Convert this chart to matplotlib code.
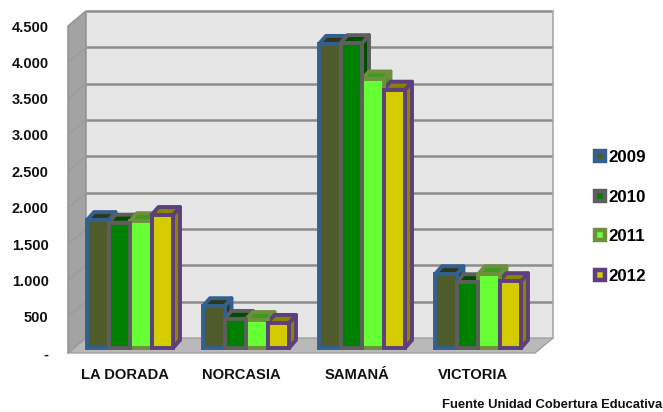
import numpy as np
import matplotlib
matplotlib.use('Agg')
import matplotlib.pyplot as plt
from matplotlib.lines import Line2D
from matplotlib.patches import Polygon

plt.rcParams['font.family'] = ['Liberation Sans', 'DejaVu Sans']

municipios = ['LA DORADA', 'NORCASIA', 'SAMANÁ', 'VICTORIA']
anios = ['2009', '2010', '2011', '2012']
v2009 = [1760, 575, 4185, 1015]
v2010 = [1725, 400, 4195, 905]
v2011 = [1745, 385, 3695, 1015]
v2012 = [1830, 345, 3555, 920]
series = [v2009, v2010, v2011, v2012]

caras = ['#4f5b2a', '#008000', '#66ff33', '#d4cc00']
bordes = ['#33608f', '#5e5e5e', '#6f8f3f', '#5c3f7c']
oscuros = ['#2f3718', '#004d00', '#3d991f', '#8a8400']
ticks = [0, 500, 1000, 1500, 2000, 2500, 3000, 3500, 4000, 4500]
tick_labels = ['-', '500', '1.000', '1.500', '2.000', '2.500', '3.000', '3.500', '4.000', '4.500']

W, H = 663, 412
fig = plt.figure(figsize=(W / 100, H / 100), dpi=100)
ax = fig.add_axes([68 / W, (H - 353) / H, (535 - 68) / W, (353 - 26) / H])
x0, x1 = -62 / 116, 405 / 116
ax.set_xlim(x0, x1)
ax.set_ylim(0, 4500)

# size of one pixel in data units
px = 1 / 116
py = 4500 / 327
bx, by = 18 * px, 15 * py   # depth of the walls


def poly(pts, fc, ec='none', lw=0, z=1):
    ax.add_patch(Polygon(pts, closed=True, facecolor=fc, edgecolor=ec, linewidth=lw,
                         zorder=z, clip_on=False, joinstyle='round'))


# walls and floor
poly([(x0 + bx, by), (x1 + bx, by), (x1 + bx, 4500 + by), (x0 + bx, 4500 + by)], '#e6e6e6')
poly([(x0, 0), (x0 + bx, by), (x0 + bx, 4500 + by), (x0, 4500)], '#a3a3a3', '#8c8c8c', 1)
poly([(x0, 0), (x0 + bx, by), (x1 + bx, by), (x1, 0)], '#b9b9b9', '#a0a0a0', 1)
for t in ticks:
    if t > 0:
        ax.plot([x0 + bx, x1 + bx], [t + by, t + by], color='#8c8c8c', lw=1.8, zorder=2,
                clip_on=False, solid_capstyle='butt')
    ax.plot([x0, x0 + bx], [t, t + by], color='#999999', lw=0.8, zorder=2, clip_on=False)
ax.plot([x1 + bx, x1 + bx], [by, 4500 + by], color='#a8a8a8', lw=1.2, zorder=2, clip_on=False)

# bars: tops and sides go behind all the front faces
bw = 21.5 * px
dx, dy = 7 * px, 8 * py
base = 5 * py
x = np.arange(len(municipios))
for j in range(4):
    xs = x + (j - 1.5) * bw
    for xi, v in zip(xs, series[j]):
        l, r = xi - bw / 2, xi + bw / 2
        t = base + v
        poly([(r, base), (r + dx, base + dy), (r + dx, t + dy), (r, t)], oscuros[j], bordes[j], 2.8, 3 + j * 0.1)
        poly([(l, t), (l + dx, t + dy), (r + dx, t + dy), (r, t)], oscuros[j], bordes[j], 2.8, 3 + j * 0.1)

z = 4
for j in [0, 2, 1, 3]:
    xs = x + (j - 1.5) * bw
    ax.bar(xs, series[j], bw, bottom=base, color=caras[j], edgecolor=bordes[j], linewidth=2.8,
           zorder=z, clip_on=False)
    z += 0.1

for s in ax.spines.values():
    s.set_visible(False)
ax.set_yticks(ticks)
ax.set_yticklabels(tick_labels, fontsize=10.5, fontweight='bold', color='#111111')
ax.set_xticks(x - 5 * px)
ax.set_xticklabels(municipios, fontsize=10.6, fontweight='bold', color='#111111')
ax.tick_params(axis='y', length=0, pad=14)
ax.tick_params(axis='x', length=0, pad=11)

handles = [Line2D([], [], linestyle='none', marker='s', markersize=7, markerfacecolor=c,
                  markeredgecolor=b, markeredgewidth=3.2) for c, b in zip(caras, bordes)]
fig.legend(handles, anios, loc='center left', bbox_to_anchor=(586 / W, (H - 217) / H), frameon=False,
           fontsize=12.2, labelspacing=1.45, handletextpad=-0.27, handlelength=1.6, borderpad=0,
           borderaxespad=0, prop={'weight': 'bold', 'size': 12.2})

fig.text(662 / W, (H - 405) / H, 'Fuente Unidad Cobertura Educativa', ha='right', va='center',
         fontsize=9.4, fontweight='bold', color='#111111')

fig.savefig('out.png', dpi=100)
